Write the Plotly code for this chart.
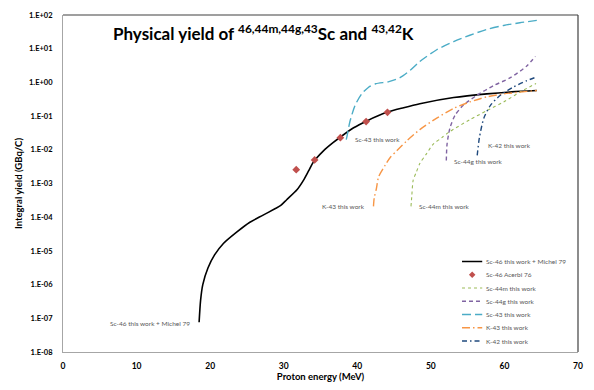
import plotly.graph_objects as go

# Proton energy (MeV) and integral yield (GBq/C) per nuclide
e_sc46 = [18.5, 18.7, 19.0, 19.7, 20.6, 21.8, 23.6, 25.4, 27.2, 28.8, 29.6, 30.4, 31.8,
          32.7, 33.4, 34.0, 35.4, 36.7, 37.9, 39.5, 41.3, 44.0, 46.3, 48.5, 53.1, 57.6, 61.0, 64.4]
y_sc46 = [7.6e-8, 3.4e-7, 1.0e-6, 3.1e-6, 7.6e-6, 1.66e-5, 3.6e-5, 7.1e-5, 1.15e-4, 1.78e-4,
          2.24e-4, 3.3e-4, 6.5e-4, 1.26e-3, 2.4e-3, 4.2e-3, 9.3e-3, 1.62e-2, 2.57e-2, 4.5e-2,
          7.2e-2, 0.129, 0.178, 0.234, 0.355, 0.457, 0.525, 0.575]

e_acerbi = [31.7, 34.2, 37.7, 41.2, 44.1]
y_acerbi = [2.57e-3, 5.0e-3, 2.29e-2, 6.9e-2, 0.129]

e_sc44m = [47.3, 47.4, 47.6, 48.0, 48.5, 49.4, 50.3, 51.5, 52.6, 55.3, 57.6, 59.9, 62.1, 64.3]
y_sc44m = [2.1e-4, 4.0e-4, 1.26e-3, 2.1e-3, 3.9e-3, 7.6e-3, 1.45e-2, 2.3e-2, 3.5e-2, 7.8e-2,
           0.145, 0.263, 0.513, 0.93]

e_sc44g = [52.1, 52.2, 52.6, 53.3, 54.4, 56.2, 58.5, 60.8, 63.0, 64.2]
y_sc44g = [4.8e-3, 1.45e-2, 4.5e-2, 0.107, 0.209, 0.407, 0.794, 1.38, 3.02, 5.9]

e_sc43 = [38.5, 38.6, 39.0, 39.7, 40.6, 41.5, 42.5, 44.3, 45.8, 47.2, 48.5, 50.8, 53.1,
          55.3, 57.6, 59.9, 62.1, 64.4]
y_sc43 = [2.0e-2, 2.5e-2, 6.9e-2, 0.209, 0.457, 0.708, 0.912, 1.05, 1.38, 2.29, 4.17, 9.3,
          16.2, 25.1, 37.2, 49.0, 58.9, 69.2]

e_k43 = [42.2, 42.3, 42.6, 42.9, 43.8, 44.5, 45.4, 46.7, 48.5, 50.8, 53.1, 55.3, 57.6,
         59.9, 62.1, 64.4]
y_k43 = [2.1e-4, 3.7e-4, 7.1e-4, 1.58e-3, 3.5e-3, 6.0e-3, 9.5e-3, 1.82e-2, 3.98e-2, 8.7e-2,
         0.17, 0.263, 0.372, 0.457, 0.513, 0.575]

e_k42 = [56.3, 56.6, 57.2, 58.1, 59.4, 61.2, 63.0, 64.1]
y_k42 = [6.8e-3, 2.3e-2, 8.7e-2, 0.209, 0.407, 0.724, 1.12, 1.38]

legend_names = ["Sc-46 this work + Michel 79", "Sc-46 Acerbi 76", "Sc-44m this work",
                "Sc-44g this work", "Sc-43 this work", "K-43 this work", "K-42 this work"]

y_tick_vals = [1e-8, 1e-7, 1e-6, 1e-5, 1e-4, 1e-3, 1e-2, 1e-1, 1e0, 1e1, 1e2]
y_tick_text = ["1.E-08", "1.E-07", "1.E-06", "1.E-05", "1.E-04", "1.E-03", "1.E-02",
               "1.E-01", "1.E+00", "1.E+01", "1.E+02"]
x_tick_vals = [0, 10, 20, 30, 40, 50, 60, 70]

FONT = "Lato"
GREY_TXT = "#595959"

# (x, y, colour, dash, width) for each line series, in legend order
lines = [
    (e_sc46, y_sc46, "#000000", "solid", 1.6),
    None,
    (e_sc44m, y_sc44m, "#9BBB59", "dot", 1.1),
    (e_sc44g, y_sc44g, "#8064A2", "4px,3px", 1.4),
    (e_sc43, y_sc43, "#4BACC6", "9px,4px", 1.4),
    (e_k43, y_k43, "#F79646", "8px,3px,1.5px,3px", 1.4),
    (e_k42, y_k42, "#1F497D", "5px,3px,1.5px,3px", 1.4),
]
RED = "#C0504D"

fig = go.Figure()
for spec in lines:
    if spec is None:
        fig.add_trace(go.Scatter(x=e_acerbi, y=y_acerbi, mode="markers",
                                 marker=dict(symbol="diamond", size=6, color=RED),
                                 showlegend=False))
        continue
    xs, ys, col, dash, w = spec
    fig.add_trace(go.Scatter(x=xs, y=ys, mode="lines",
                             line=dict(color=col, dash=dash, width=w, shape="spline", smoothing=0.7),
                             showlegend=False))

# Legend drawn on a small helper axis pair
for i, spec in enumerate(lines):
    row = i + 1
    if spec is None:
        fig.add_trace(go.Scatter(x=[0.5], y=[row], mode="markers", xaxis="x2", yaxis="y2",
                                 marker=dict(symbol="diamond", size=5, color=RED),
                                 showlegend=False, hoverinfo="skip"))
    else:
        _, _, col, dash, w = spec
        fig.add_trace(go.Scatter(x=[0, 1], y=[row, row], mode="lines", xaxis="x2", yaxis="y2",
                                 line=dict(color=col, dash=dash, width=w),
                                 showlegend=False, hoverinfo="skip"))

annotations = []
for i, name in enumerate(legend_names):
    annotations.append(dict(x=0.818, xref="paper", y=i + 1, yref="y2", text=name,
                            showarrow=False, xanchor="left", yanchor="middle",
                            font=dict(family=FONT, size=6.5, color=GREY_TXT)))

# curve labels (y given as log10 on the log axis)
curve_labels = [
    ("Sc-46 this work + Michel 79", 17.6, -7.15, "right"),
    ("K-43 this work", 41.3, -3.68, "right"),
    ("Sc-44m this work", 48.1, -3.68, "left"),
    ("Sc-43 this work", 39.4, -1.68, "left"),
    ("Sc-44g this work", 52.9, -2.34, "left"),
    ("K-42 this work", 57.5, -1.86, "left"),
]
for txt, xv, yv, anc in curve_labels:
    annotations.append(dict(x=xv, y=yv, xref="x", yref="y", text=txt, showarrow=False,
                            xanchor=anc, yanchor="middle",
                            font=dict(family=FONT, size=6.5, color=GREY_TXT)))

annotations.append(dict(
    x=0.39, y=0.948, xref="paper", yref="paper", showarrow=False,
    xanchor="center", yanchor="middle",
    text="Physical yield of <sup>46,44m,44g,43</sup>Sc and <sup>43,42</sup>K",
    font=dict(family=FONT, size=17, color="#000000", weight="bold")))

fig.update_layout(
    width=594, height=390,
    margin=dict(l=63, r=16, t=11, b=34),
    paper_bgcolor="white", plot_bgcolor="white",
    showlegend=False,
    font=dict(family=FONT, color="#000000"),
    xaxis=dict(range=[0, 70], tickvals=x_tick_vals, showgrid=False, zeroline=False,
               showline=True, linecolor="#A6A6A6", linewidth=1, ticks="",
               ticklabelstandoff=6,
               tickfont=dict(family=FONT, size=8.5, color="#000000", weight="bold"),
               title=dict(text="Proton energy (MeV)", standoff=1,
                          font=dict(family=FONT, size=9.5, weight="bold"))),
    yaxis=dict(type="log", range=[-8, 2], tickvals=y_tick_vals, ticktext=y_tick_text,
               showgrid=False, zeroline=False, showline=True, linecolor="#A6A6A6",
               linewidth=1, ticks="", ticklabelstandoff=8,
               tickfont=dict(family=FONT, size=7.5, color="#000000", weight="bold"),
               title=dict(text="Integral yield (GBq/C)", standoff=4,
                          font=dict(family=FONT, size=9.5, weight="bold"))),
    xaxis2=dict(domain=[0.774, 0.815], range=[-0.02, 1.02], visible=False, anchor="y2"),
    yaxis2=dict(domain=[0.013, 0.288], range=[7.5, 0.5], visible=False, anchor="x2"),
    annotations=annotations,
    shapes=[
        dict(type="line", xref="paper", yref="paper", x0=0, x1=1, y0=1, y1=1,
             line=dict(color="#404040", width=1.2)),
        dict(type="line", xref="paper", yref="paper", x0=1, x1=1, y0=0, y1=1,
             line=dict(color="#404040", width=1.2)),
    ],
)

fig.write_html("out.html")
